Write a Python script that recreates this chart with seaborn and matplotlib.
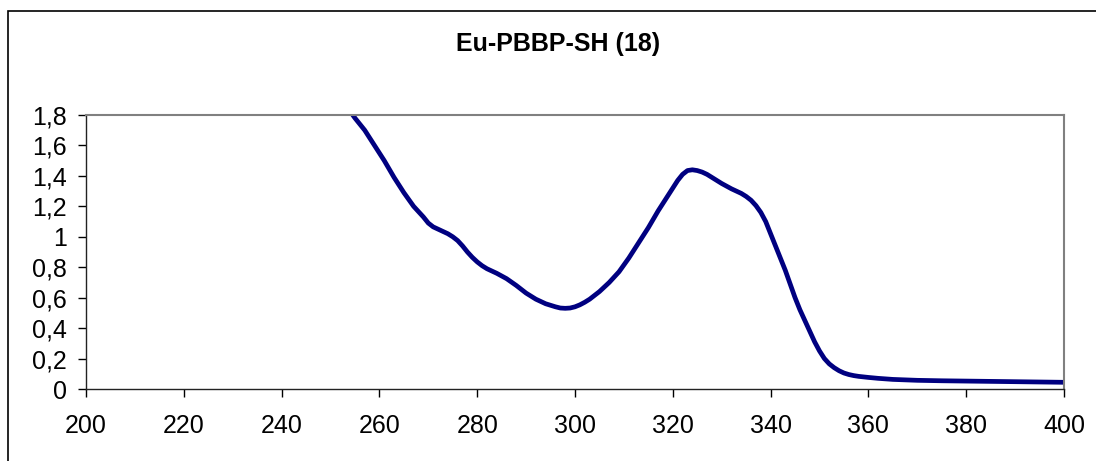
import matplotlib
matplotlib.use("Agg")
import matplotlib.pyplot as plt
import seaborn as sns
import pandas as pd
from matplotlib.patches import Rectangle

wavelength = [253, 255, 257, 259, 261, 263, 265, 267, 269, 270, 271, 272, 273, 274, 275,
              276, 277, 278, 279, 280, 281, 282, 284, 286, 288, 290, 292, 294, 296, 297,
              298, 299, 300, 301, 302, 303, 305, 307, 309, 311, 313, 315, 317, 319, 320,
              321, 322, 323, 324, 325, 326, 327, 328, 329, 330, 332, 334, 335, 336, 337,
              338, 339, 340, 341, 342, 343, 344, 345, 346, 347, 348, 349, 350, 351, 352,
              353, 354, 355, 356, 357, 358, 360, 362, 365, 370, 375, 380, 385, 390, 395,
              400]
absorbance = [1.87, 1.78, 1.70, 1.60, 1.50, 1.39, 1.29, 1.20, 1.13, 1.09, 1.065, 1.05,
              1.035, 1.02, 1.0, 0.975, 0.94, 0.90, 0.865, 0.835, 0.81, 0.79, 0.76, 0.725,
              0.68, 0.63, 0.59, 0.56, 0.54, 0.532, 0.53, 0.532, 0.54, 0.553, 0.57, 0.59,
              0.64, 0.70, 0.77, 0.86, 0.96, 1.06, 1.17, 1.27, 1.32, 1.37, 1.41, 1.435,
              1.44, 1.435, 1.425, 1.41, 1.39, 1.37, 1.35, 1.315, 1.285, 1.265, 1.24,
              1.205, 1.16, 1.10, 1.02, 0.94, 0.86, 0.78, 0.69, 0.60, 0.52, 0.45, 0.38,
              0.31, 0.25, 0.20, 0.165, 0.14, 0.12, 0.105, 0.095, 0.088, 0.083, 0.076,
              0.070, 0.063, 0.057, 0.054, 0.052, 0.050, 0.048, 0.046, 0.044]

x_ticks = [200, 220, 240, 260, 280, 300, 320, 340, 360, 380, 400]
y_ticks = [0, 0.2, 0.4, 0.6, 0.8, 1.0, 1.2, 1.4, 1.6, 1.8]
y_tick_labels = ["0", "0,2", "0,4", "0,6", "0,8", "1", "1,2", "1,4", "1,6", "1,8"]
title = "Eu-PBBP-SH (18)"

sns.set_theme(style="white")
plt.rcParams["font.family"] = ["Liberation Sans", "DejaVu Sans"]

df = pd.DataFrame({"wavelength": wavelength, "absorbance": absorbance})

fig = plt.figure(figsize=(10.96, 4.61), dpi=100)
ax = fig.add_axes([86 / 1096, 1 - 389 / 461, (1064 - 86) / 1096, (389 - 115) / 461])

sns.lineplot(data=df, x="wavelength", y="absorbance", ax=ax, color="#000080",
             linewidth=3.4, estimator=None, sort=False)
ax.lines[0].set_solid_joinstyle("round")
ax.lines[0].set_solid_capstyle("round")

ax.set_xlim(200, 400)
ax.set_ylim(0, 1.8)
ax.set_xticks(x_ticks)
ax.set_xticklabels([str(v) for v in x_ticks])
ax.set_yticks(y_ticks)
ax.set_yticklabels(y_tick_labels)
ax.set_xlabel("")
ax.set_ylabel("")

ax.tick_params(axis="both", which="major", direction="out", length=6, width=1,
               color="black", labelsize=18, labelcolor="black")
ax.tick_params(axis="y", pad=8)
ax.tick_params(axis="x", pad=12)
ax.xaxis.set_ticks_position("bottom")
ax.yaxis.set_ticks_position("left")

for side in ["left", "bottom"]:
    ax.spines[side].set_color("#222222")
    ax.spines[side].set_linewidth(1.0)
for side in ["top", "right"]:
    ax.spines[side].set_color("#808080")
    ax.spines[side].set_linewidth(1.5)
for s in ax.spines.values():
    s.set_visible(True)

fig.text(558 / 1096, 1 - 44 / 461, title, ha="center", va="center",
         fontsize=18, fontweight="bold", color="black")

border = Rectangle((8 / 1096, -0.2), 1.2, 1 - 11 / 461 + 0.2, transform=fig.transFigure,
                   fill=False, edgecolor="black", linewidth=1.2, clip_on=False)
fig.patches.append(border)

fig.savefig("out.png", dpi=100, facecolor="white")
